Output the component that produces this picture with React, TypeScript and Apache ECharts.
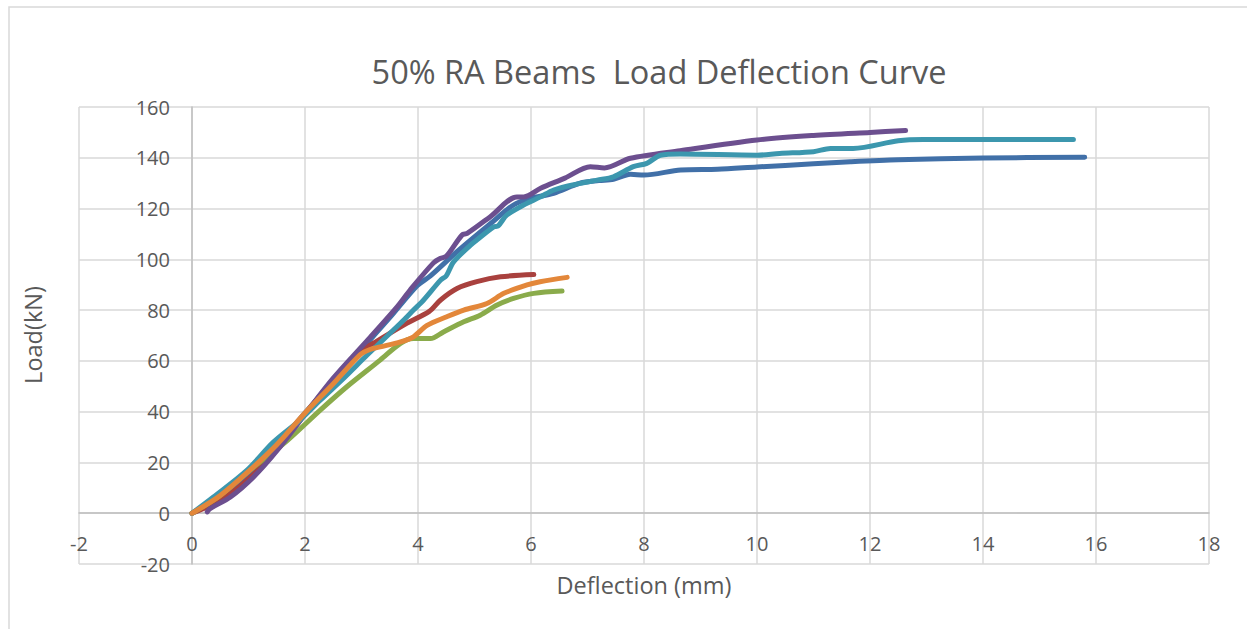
import React, { useEffect, useRef } from "react";
import * as echarts from "echarts";

const titleText = "50% RA Beams  Load Deflection Curve";
const xAxisName = "Deflection (mm)";
const yAxisName = "Load(kN)";

const seriesNames = ["Beam 1", "Beam 2", "Beam 3", "Beam 4", "Beam 5", "Beam 6"];
const seriesColors = ["#4170a8", "#a9413e", "#8aab4b", "#6c4f8f", "#3c97ae", "#e3873a"];

const beam1: number[][] = [
  [0, 0], [0.5, 6.5], [1, 15.5], [1.5, 26.5], [2, 39.5], [2.5, 52], [3, 64.5], [3.5, 77],
  [3.98, 89.5], [4.22, 93.5], [4.69, 103], [5.28, 114], [5.69, 121.4], [5.99, 124],
  [6.4, 126], [6.87, 130], [7.2, 131], [7.46, 131.5], [7.76, 133.5], [8.0, 133.2],
  [8.65, 135.2], [9.3, 135.5], [10, 136.4], [11, 137.6], [11.65, 138.4], [12.5, 139.2], [14, 139.9],
  [15.8, 140.2],
];
const beam2: number[][] = [
  [0, 0], [0.5, 5], [1, 13.5], [1.5, 25], [2, 39], [2.5, 52.5], [3.1, 65.5], [3.21, 67], [3.8, 74.8],
  [4.2, 79.5], [4.4, 84], [4.69, 88.5], [5.04, 91.2], [5.46, 93.1], [6.05, 94],
];
const beam3: number[][] = [
  [0, 0], [0.5, 7], [1, 16.5], [1.68, 28.5], [2.27, 40.6], [2.74, 49.8], [3.33, 60.3], [3.69, 66.9],
  [3.92, 68.8], [4.22, 68.8], [4.45, 71.4], [4.81, 75.4], [5.1, 78], [5.4, 82], [5.69, 84.6],
  [6.05, 86.6], [6.55, 87.5],
];
const beam4: number[][] = [
  [0.27, 0.5], [0.32, 1.8], [0.68, 6.4], [1.09, 14.3], [1.51, 24.8], [2, 39], [2.5, 53.2], [3.1, 68],
  [3.63, 81.3], [3.86, 87.9], [4.27, 98.5], [4.4, 100.4], [4.5, 101.2], [4.78, 109.6], [4.87, 110.2],
  [5.28, 116.8], [5.75, 124.6], [5.87, 124.6], [6.17, 128], [6.6, 132], [7.05, 136.5], [7.3, 136],
  [7.76, 139.8], [8.64, 142.8], [10, 147], [11, 148.8], [12, 150], [12.63, 150.7],
];
const beam5: number[][] = [
  [0, 0], [0.38, 6.4], [0.97, 16.9], [1.44, 28], [1.9, 36.5], [2.27, 44.5], [2.7, 53.5],
  [3.1, 62.3], [3.69, 74.8], [3.92, 80], [4.1, 84], [4.4, 91.8], [4.5, 93.5], [4.63, 99],
  [4.93, 105.6], [5.04, 107.6], [5.34, 112.8], [5.42, 113.2], [5.57, 117.4], [5.87, 121.4],
  [6.17, 124.6], [6.4, 127.3], [6.87, 129.9], [7.17, 131.2], [7.46, 132.5], [7.81, 136.5],
  [8.05, 137.8], [8.29, 141], [8.64, 141.5], [10, 141], [10.4, 141.7], [11, 142.4], [11.3, 143.7],
  [11.7, 143.7], [12.5, 146.7], [12.94, 147.2], [14, 147.2], [15.6, 147.2],
];
const beam6: number[][] = [
  [0, 0], [0.5, 7], [1, 16.5], [1.5, 27], [2, 39.5], [2.45, 49.8], [2.98, 62.5], [3.15, 64.5],
  [3.33, 65.5], [3.69, 67.5], [3.92, 69.5], [4.16, 74], [4.51, 77.4], [4.81, 80], [5.22, 82.6],
  [5.52, 86.6], [5.93, 89.9], [6.16, 91.2], [6.64, 92.9],
];
const allData = [beam1, beam2, beam3, beam4, beam5, beam6];

const xMin = -2, xMax = 18, xStep = 2;
const yMin = -20, yMax = 160, yStep = 20;

const FONT = "'Open Sans', sans-serif";
const TEXT = "#595959";

const GRID_LEFT = 79, GRID_RIGHT = 38, GRID_TOP = 107, GRID_BOTTOM = 65;
const PLOT_W = 1247 - GRID_LEFT - GRID_RIGHT;
const PLOT_H = 629 - GRID_TOP - GRID_BOTTOM;
// shift each axis so it sits at the other's zero
const yAxisOffset = -((0 - xMin) / (xMax - xMin)) * PLOT_W;
const xAxisOffset = -((0 - yMin) / (yMax - yMin)) * PLOT_H;

export default function App() {
  const ref = useRef<HTMLDivElement>(null);
  useEffect(() => {
    if (!ref.current) return;
    const chart = echarts.init(ref.current, undefined, { renderer: "svg" });
    chart.setOption({
      animation: false,
      backgroundColor: "#ffffff",
      textStyle: { fontFamily: FONT },
      grid: { left: GRID_LEFT, right: GRID_RIGHT, top: GRID_TOP, bottom: GRID_BOTTOM, containLabel: false },
      graphic: [
        {
          type: "rect",
          shape: { x: 9, y: 7, width: 1400, height: 800 },
          style: { fill: "none", stroke: "#d9d9d9", lineWidth: 1.5 },
          silent: true,
          z: -10,
        },
        {
          type: "text",
          x: 659, y: 71,
          style: { text: titleText, fill: TEXT, font: `32.5px ${FONT}`, align: "center", verticalAlign: "middle" },
        },
        {
          type: "text",
          x: 644, y: 585,
          style: { text: xAxisName, fill: TEXT, font: `23.5px ${FONT}`, align: "center", verticalAlign: "middle" },
        },
        {
          type: "text",
          x: 33, y: 335, rotation: Math.PI / 2,
          style: { text: yAxisName, fill: TEXT, font: `23.5px ${FONT}`, align: "center", verticalAlign: "middle" },
        },
      ],
      xAxis: {
        type: "value",
        min: xMin, max: xMax, interval: xStep,
        position: "bottom",
        offset: xAxisOffset,
        axisLine: { show: true, onZero: false, lineStyle: { color: "#bfbfbf", width: 1.5 } },
        axisTick: { show: false },
        axisLabel: { color: TEXT, fontSize: 20, fontFamily: FONT, margin: 20 },
        splitLine: { show: true, lineStyle: { color: "#d9d9d9", width: 1.5 } },
      },
      yAxis: {
        type: "value",
        min: yMin, max: yMax, interval: yStep,
        position: "left",
        offset: yAxisOffset,
        axisLine: { show: true, onZero: false, lineStyle: { color: "#bfbfbf", width: 1.5 } },
        axisTick: { show: false },
        axisLabel: { color: TEXT, fontSize: 20, fontFamily: FONT, margin: 22 },
        splitLine: { show: true, lineStyle: { color: "#d9d9d9", width: 1.5 } },
      },
      series: allData.map((d, i) => ({
        name: seriesNames[i],
        type: "line",
        data: d,
        showSymbol: false,
        smooth: 0.3,
        lineStyle: { color: seriesColors[i], width: 5, cap: "round", join: "round" },
        itemStyle: { color: seriesColors[i] },
        z: 2 + i,
      })),
    });
    return () => chart.dispose();
  }, []);
  return <div ref={ref} style={{ position: "fixed", left: 0, top: 0, width: 1247, height: 629 }} />;
}
